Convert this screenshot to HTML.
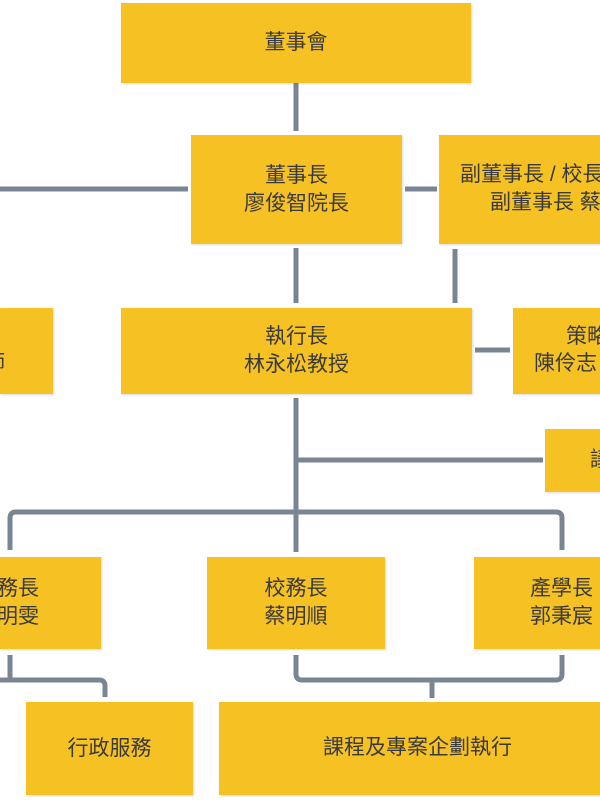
<!DOCTYPE html>
<html><head><meta charset="utf-8"><style>
body{margin:0;width:600px;height:800px;overflow:hidden;background:#fff;position:relative;font-family:"Liberation Sans","Noto Sans CJK TC",sans-serif;}
.b{position:absolute;background:#F6C223;box-shadow:1px 1px 2px rgba(0,0,0,.15);color:#3a3a3a;font-size:21px;line-height:28px;display:flex;flex-direction:column;justify-content:center;align-items:center;text-align:center;overflow:hidden;white-space:nowrap;}
.t{position:absolute;color:#3a3a3a;font-size:21px;line-height:28px;white-space:nowrap;}
svg{position:absolute;left:0;top:0}
</style></head><body>
<svg width="600" height="800"><g stroke="#7a8593" stroke-width="5" fill="none" stroke-linejoin="round">
<path d="M296 83V131"/>
<path d="M0 189H188"/><path d="M405 189H437"/>
<path d="M296 248V303"/><path d="M455 249V303"/>
<path d="M475 350H510"/>
<path d="M296 398V552"/><path d="M296 460H543"/>
<path d="M10 550V518Q10 512 16 512H556Q562 512 562 518V550"/>
<path d="M10 655V680H99Q105 680 105 686V697"/>
<path d="M0 680H10"/>
<path d="M296 655V674Q296 680 302 680H556Q562 680 562 674V655"/>
<path d="M432 682V698"/>
</g></svg>
<div class="b" style="left:121px;top:3px;width:350px;height:80px">董事會</div>
<div class="b" style="left:191px;top:135px;width:211px;height:109px">董事長<br>廖俊智院長</div>
<div class="b" style="left:439px;top:135px;width:161px;height:109px"></div>
<div class="t" style="left:460px;top:161px">副董事長 / 校長</div>
<div class="t" style="left:490px;top:189px">副董事長 蔡</div>
<div class="b" style="left:0;top:308px;width:53px;height:86px"></div>
<div class="t" style="left:-16px;top:350px">師</div>
<div class="b" style="left:121px;top:308px;width:351px;height:86px">執行長<br>林永松教授</div>
<div class="b" style="left:513px;top:308px;width:87px;height:86px"></div>
<div class="t" style="left:566px;top:323px">策略</div>
<div class="t" style="left:534px;top:350px">陳伶志</div>
<div class="b" style="left:545px;top:429px;width:55px;height:63px"></div>
<div class="t" style="left:590px;top:446px">議</div>
<div class="b" style="left:0;top:557px;width:101px;height:92px"></div>
<div class="t" style="left:-3px;top:575px">務長</div>
<div class="t" style="left:-3px;top:603px">明雯</div>
<div class="b" style="left:207px;top:557px;width:178px;height:92px">校務長<br>蔡明順</div>
<div class="b" style="left:474px;top:557px;width:126px;height:92px"></div>
<div class="t" style="left:530px;top:575px">產學長</div>
<div class="t" style="left:530px;top:603px">郭秉宸</div>
<div class="b" style="left:26px;top:702px;width:167px;height:93px">行政服務</div>
<div class="b" style="left:219px;top:702px;width:381px;height:93px"></div>
<div class="t" style="left:323px;top:734px">課程及專案企劃執行</div>
</body></html>
